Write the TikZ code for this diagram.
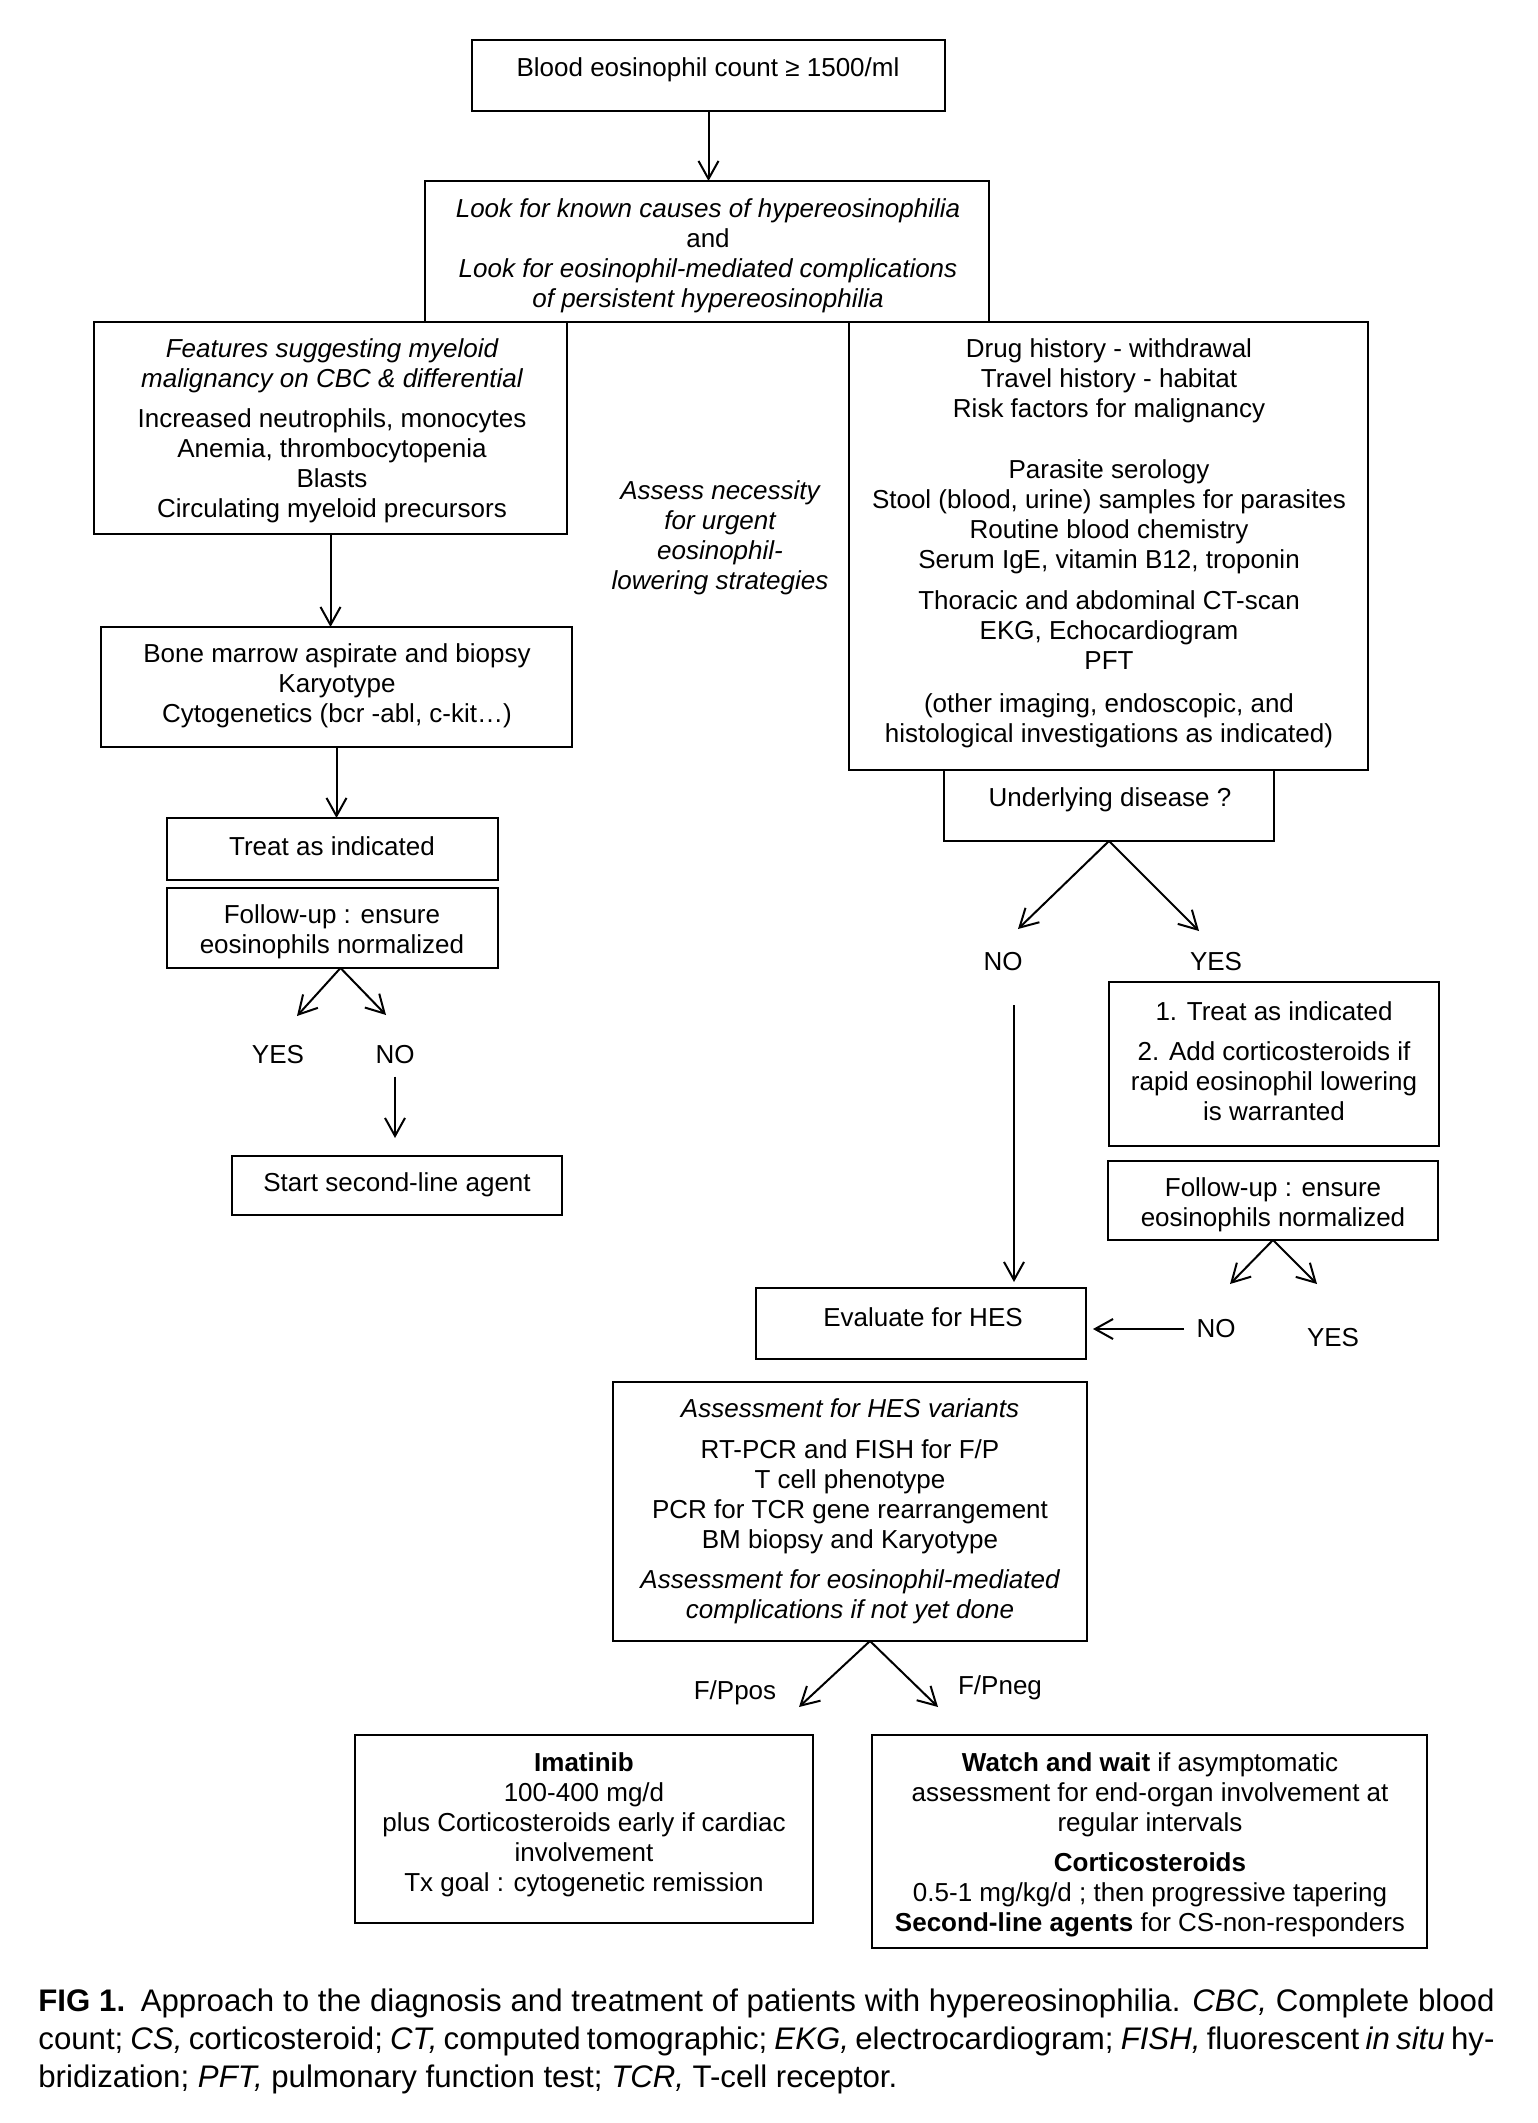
\documentclass[tikz,border=0pt]{standalone}
\usepackage{fontspec}
\setmainfont{Liberation Sans}
\usetikzlibrary{arrows.meta}
\newcommand{\mkbox}[5]{\node[box, minimum width={(#4-#2)*0.5pt}, minimum height={(#5-#3)*0.5pt}] (#1) at (#2,#3) {};}
\tikzset{
  box/.style={draw, line width=1pt, inner sep=0pt, outer sep=0pt, anchor=north west},
  txt/.style={align=center, inner sep=0pt, yshift=-1.5pt, font=\fontsize{13}{15}\selectfont},
  arr/.style={line width=1pt, -{Straight Barb[length=9pt,width=10pt,line width=1pt]}},
}
\begin{document}
\begin{tikzpicture}[x=0.5pt, y=-0.5pt]
\useasboundingbox (0,0) rectangle (1537,2123);

% boxes
\mkbox{b1}{472}{40}{945}{111}
\mkbox{b2}{425}{181}{989}{322}
\mkbox{mye}{94}{322}{567}{534}
\mkbox{rb}{849}{322}{1368}{770}
\mkbox{bm}{101}{627}{572}{747}
\mkbox{tr1}{167}{818}{498}{880}
\mkbox{fu1}{167}{888}{498}{968}
\mkbox{sl}{232}{1156}{562}{1215}
\mkbox{ud}{944}{770}{1274}{841}
\mkbox{tr2}{1109}{982}{1439}{1146}
\mkbox{fu2}{1108}{1161}{1438}{1240}
\mkbox{ev}{756}{1288}{1086}{1359}
\mkbox{hes}{613}{1382}{1087}{1641}
\mkbox{ima}{355}{1735}{813}{1923}
\mkbox{ww}{872}{1735}{1427}{1948}

% texts
\node[txt] (t1) at (708,67) {Blood eosinophil count ≥ 1500/ml};
\node[txt] (t2) at (708,253) {\itshape Look for known causes of hypereosinophilia\\and\\\itshape Look for eosinophil-mediated complications\\\itshape of persistent hypereosinophilia};
\node[txt] (tmye) at (332,428) {\itshape Features suggesting myeloid\\\itshape malignancy on CBC \& differential\\[5pt]Increased neutrophils, monocytes\\Anemia, thrombocytopenia\\Blasts\\Circulating myeloid precursors};
\node[txt] (trb) at (1109,540) {Drug history - withdrawal\\Travel history - habitat\\Risk factors for malignancy\\[15.5pt]Parasite serology\\Stool (blood, urine) samples for parasites\\Routine blood chemistry\\Serum IgE, vitamin B12, troponin\\[5.5pt]Thoracic and abdominal CT-scan\\EKG, Echocardiogram\\PFT\\[6.5pt](other imaging, endoscopic, and\\histological investigations as indicated)};
\node[txt, font=\fontsize{13}{15}\selectfont\itshape] (tas) at (720,535) {Assess necessity\\for urgent\\eosinophil-\\lowering strategies};
\node[txt] (tbm) at (337,683) {Bone marrow aspirate and biopsy\\Karyotype\\Cytogenetics (bcr -abl, c-kit\ldots)};
\node[txt] (ttr1) at (332,843) {Treat as indicated};
\node[txt] (tfu1) at (332,929) {Follow-up : ensure\\eosinophils normalized};
\node[txt] (yes1) at (278,1052) {YES};
\node[txt] (no1) at (395,1052) {NO};
\node[txt] (tsl) at (397,1182) {Start second-line agent};
\node[txt] (tud) at (1110,797) {Underlying disease ?};
\node[txt] (no2) at (1003,959) {NO};
\node[txt] (yes2) at (1216,959) {YES};
\node[txt] (ttr2) at (1274,1058) {1. Treat as indicated\\[5pt]2. Add corticosteroids if\\rapid eosinophil lowering\\is warranted};
\node[txt] (tfu2) at (1273,1202) {Follow-up : ensure\\eosinophils normalized};
\node[txt] (no3) at (1216,1326) {NO};
\node[txt] (yes3) at (1333,1335) {YES};
\node[txt] (tev) at (923,1314) {Evaluate for HES};
\node[txt] (thes) at (850,1508) {\itshape Assessment for HES variants\\[5.5pt]RT-PCR and FISH for F/P\\T cell phenotype\\PCR for TCR gene rearrangement\\BM biopsy and Karyotype\\[5pt]\itshape Assessment for eosinophil-mediated\\\itshape complications if not yet done};
\node[txt] (fpos) at (735,1690) {F/Ppos};
\node[txt] (fneg) at (1000,1685) {F/Pneg};
\node[txt] (tima) at (584,1822) {\textbf{Imatinib}\\100-400 mg/d\\plus Corticosteroids early if cardiac\\involvement\\Tx goal : cytogenetic remission};
\node[txt] (tww) at (1150,1842) {\textbf{Watch and wait} if asymptomatic\\assessment for end-organ involvement at\\regular intervals\\[5pt]\textbf{Corticosteroids}\\0.5-1 mg/kg/d ; then progressive tapering\\\textbf{Second-line agents} for CS-non-responders};

% free ends of connectors
\coordinate (c1) at (297,1016);
\coordinate (c2) at (386,1015);
\coordinate (c3) at (395,1138);
\coordinate (c4) at (1018,929);
\coordinate (c5) at (1199,931);
\coordinate (c6) at (1014,1005);
\coordinate (c7) at (1230,1284);
\coordinate (c8) at (1317,1284);
\coordinate (c9) at (799,1707);
\coordinate (c10) at (938,1707);

% connectors
\draw[arr] (b1.south) -- (b1.south |- b2.north);
\draw[arr] (mye.south) -- (mye.south |- bm.north);
\draw[arr] (bm.south) -- (bm.south |- tr1.north);
\draw[arr] ([xshift=4pt]fu1.south) -- (c1);
\draw[arr] ([xshift=4pt]fu1.south) -- (c2);
\draw[arr] ([yshift=-6pt]no1.south) -- (c3);
\draw[arr] (ud.south) -- (c4);
\draw[arr] (ud.south) -- (c5);
\draw[arr, shorten >=3pt] (c6) -- (c6 |- ev.north);
\draw[arr] (fu2.south) -- (c7);
\draw[arr] (fu2.south) -- (c8);
\draw[arr, shorten >=3.5pt] ([xshift=-6pt]no3.west) -- (ev.east |- no3.west);
\draw[arr] ([xshift=10pt]hes.south) -- (c9);
\draw[arr] ([xshift=10pt]hes.south) -- (c10);

% caption
\node[anchor=north west, inner sep=0pt, text width=728pt, align=justify,
      font=\fontsize{15.6}{19}\selectfont] (cap) at (38,1988)
{\noindent\textbf{FIG 1.}\enspace Approach to the diagnosis and treatment of patients with hypereosinophilia. \textit{CBC,} Complete blood\linebreak count; \textit{CS,} corticosteroid; \textit{CT,} computed tomographic; \textit{EKG,} electrocardiogram; \textit{FISH,} fluorescent \textit{in situ} hy-\linebreak bridization; \textit{PFT,} pulmonary function test; \textit{TCR,} T-cell receptor.};
\end{tikzpicture}
\end{document}
